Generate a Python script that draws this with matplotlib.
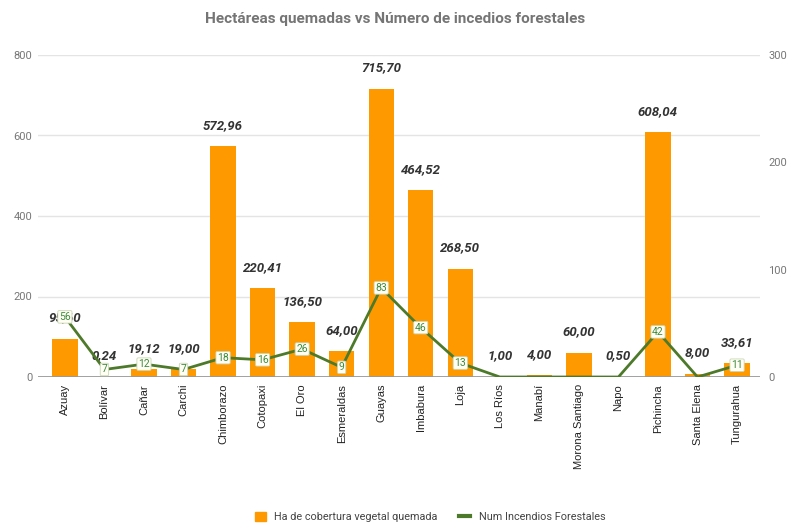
import matplotlib.pyplot as plt
import numpy as np
from matplotlib.lines import Line2D
from matplotlib.patches import Patch

provincias = ["Azuay", "Bolívar", "Cañar", "Carchi", "Chimborazo", "Cotopaxi",
              "El Oro", "Esmeraldas", "Guayas", "Imbabura", "Loja", "Los Ríos",
              "Manabí", "Morona Santiago", "Napo", "Pichincha", "Santa Elena",
              "Tungurahua"]
hectareas = [95.60, 0.24, 19.12, 19.00, 572.96, 220.41, 136.50, 64.00, 715.70,
             464.52, 268.50, 1.00, 4.00, 60.00, 0.50, 608.04, 8.00, 33.61]
incendios = [56, 7, 12, 7, 18, 16, 26, 9, 83, 46, 13, 0, 0, 0, 0, 42, 0, 11]
left_ticks = [0, 200, 400, 600, 800]
right_ticks = [0, 100, 200, 300]

W, H = 790, 523
fig = plt.figure(figsize=(W / 100, H / 100), dpi=100)
ax = fig.add_axes([38 / W, 1 - 377 / H, (760 - 38) / W, (377 - 55) / H])
x = np.arange(len(provincias))

ax.bar(x, hectareas, width=0.64, color="#FF9900", zorder=2)
ax.set_xlim(-0.68, 17.58)
ax.set_ylim(0, 800)
ax.set_yticks(left_ticks)
ax.yaxis.grid(True, color="#e4e4e4", lw=1)
ax.set_axisbelow(True)
for s in ax.spines.values():
    s.set_visible(False)
ax.axhline(0, color="#9a9a9a", lw=1.3, zorder=3)
ax.tick_params(axis="y", length=0, pad=4, labelcolor="#777777", labelsize=8)
for t in ax.get_yticklabels():
    t.set_family("Roboto")
ax.set_xticks(x)
ax.set_xticklabels(provincias, rotation=90, fontsize=8, family="Liberation Sans",
                   color="#222222", va="top")
ax.tick_params(axis="x", length=0, pad=5)

for xi, v in zip(x, hectareas):
    lbl = f"{v:.2f}".replace(".", ",")
    ax.annotate(lbl, (xi, v), xytext=(0, 15), textcoords="offset points",
                ha="center", va="center", fontsize=9.5, fontweight="bold",
                fontstyle="italic", family="Roboto", color="#333333", zorder=4)

ax2 = ax.twinx()
ax2.set_ylim(0, 300)
ax2.set_yticks(right_ticks)
for s in ax2.spines.values():
    s.set_visible(False)
ax2.tick_params(axis="y", length=0, pad=6, labelcolor="#777777", labelsize=8)
for t in ax2.get_yticklabels():
    t.set_family("Roboto")
ax2.plot(x, incendios, color="#4d7a2a", lw=2, zorder=3)
for xi, v in zip(x, incendios):
    if v > 0:
        ax2.text(xi, v, str(v), ha="center", va="center", fontsize=7.5,
                 family="Roboto", color="#3d8b3d", zorder=5,
                 bbox=dict(boxstyle="round,pad=0.12", fc="#fffff4",
                           ec="#c9d6b5", lw=0.6))

fig.text(395 / W, 1 - 19 / H, "Hectáreas quemadas vs Número de incedios forestales",
         ha="center", va="center", fontsize=11, fontweight="bold",
         family="Roboto", color="#757575")

handles = [Patch(color="#FF9900", label="Ha de cobertura vegetal quemada"),
           Line2D([0], [0], color="#4d7a2a", lw=3, label="Num Incendios Forestales")]
fig.legend(handles=handles, loc="center", bbox_to_anchor=(430 / W, 1 - 517 / H),
           ncol=2, frameon=False, handlelength=1.0, handleheight=1.0,
           columnspacing=2.0, handletextpad=0.8,
           prop={"family": "Roboto", "size": 7.8}, labelcolor="#444444")

fig.savefig("out.png", dpi=100)
